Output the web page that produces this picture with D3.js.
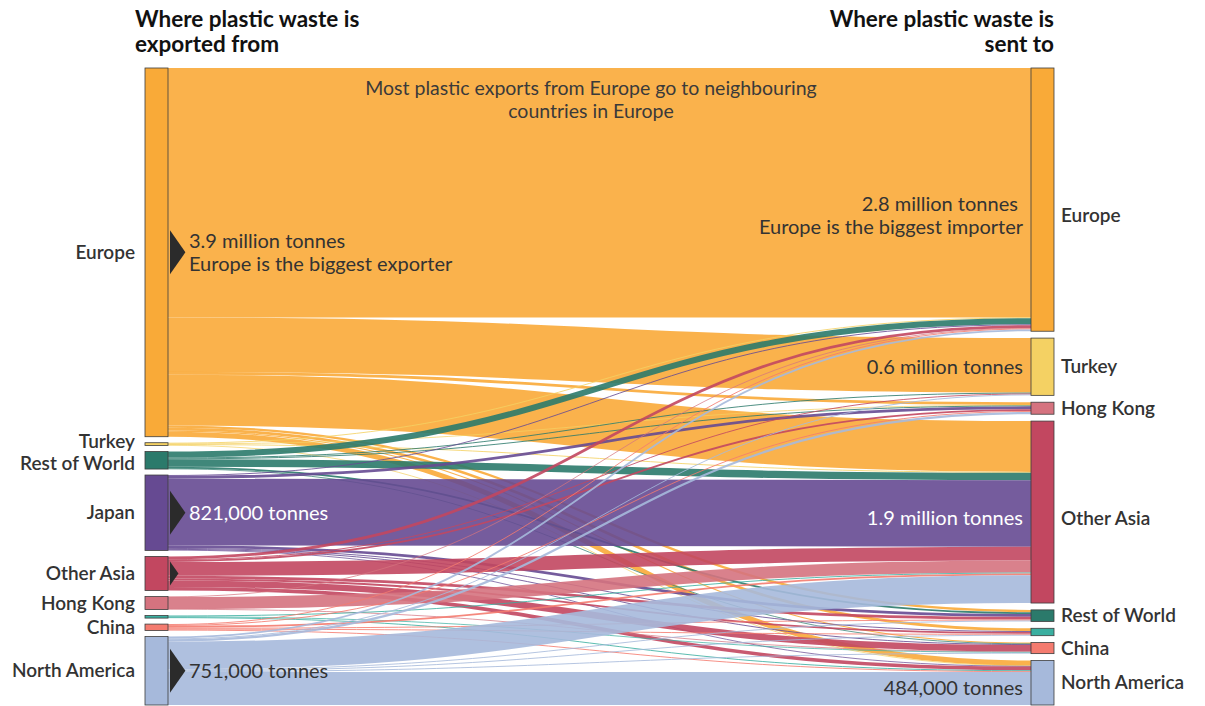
<!DOCTYPE html>
<html><head><meta charset="utf-8">
<script src="https://cdn.jsdelivr.net/npm/d3@7"></script>
<style>
body{margin:0;background:#fff;}
text{font-family:Lato,"Open Sans","DejaVu Sans",sans-serif;}
</style>
</head><body>
<svg id="chart" width="1205" height="706"></svg>
<script>
// ---------- DATA ----------
const sources = ["Europe","Turkey","Rest of World","Japan","Other Asia","Hong Kong","Other","China","North America"];
const sourceLabels = ["Europe","Turkey","Rest of World","Japan","Other Asia","Hong Kong","","China","North America"];
const targets = ["Europe","Turkey","Hong Kong","Other Asia","Rest of World","Other","China","North America"];
const targetLabels = ["Europe","Turkey","Hong Kong","Other Asia","Rest of World","","China","North America"];

// thousand tonnes sent from each source to targets (order = targets)
const fromEurope       = [2700, 590, 30, 550, 25, 30, 12, 55];
const fromTurkey       = [10, 0, 5, 10, 0, 0, 0, 5];
const fromRestOfWorld  = [65, 10, 10, 80, 20, 0, 5, 0];
const fromJapan        = [10, 0, 30, 720, 30, 10, 10, 6];
const fromOtherAsia    = [30, 10, 20, 150, 30, 20, 70, 40];
const fromHongKong     = [5, 0, 0, 130, 0, 0, 5, 0];
const fromOther        = [0, 0, 0, 10, 0, 0, 8, 10];
const fromChina        = [10, 0, 10, 20, 10, 10, 0, 10];
const fromNorthAmerica = [20, 10, 25, 300, 10, 10, 10, 356];
const flowRows = [fromEurope, fromTurkey, fromRestOfWorld, fromJapan, fromOtherAsia,
                  fromHongKong, fromOther, fromChina, fromNorthAmerica];

const regionColors = {
  "Europe":"#f9aa38", "Turkey":"#f4d163", "Rest of World":"#2b7a6b", "Japan":"#664a92",
  "Other Asia":"#c24760", "Hong Kong":"#d5737f", "Other":"#3aafa0", "China":"#f47b6f",
  "North America":"#a6b9db"
};

const leftTitle = ["Where plastic waste is","exported from"];
const rightTitle = ["Where plastic waste is","sent to"];
const topNote = ["Most plastic exports from Europe go to neighbouring","countries in Europe"];
const arrowSources = ["Europe","Japan","Other Asia","North America"];
const sourceNotes = {"Europe":["3.9 million tonnes","Europe is the biggest exporter"],
                     "Japan":["821,000 tonnes"], "North America":["751,000 tonnes"]};
const targetNotes = {"Europe":["2.8 million tonnes ","Europe is the biggest importer"],
                     "Turkey":["0.6 million tonnes"], "Other Asia":["1.9 million tonnes"],
                     "North America":["484,000 tonnes"]};
const lightNoteSources = ["Japan"];
const lightNoteTargets = ["Other Asia"];

// ---------- LAYOUT ----------
const svg = d3.select("#chart");
const xLeft = 145, nodeW = 23, xRight = 1031;
const yTop = 68, yBottom = 705, pad = 6;
const H = yBottom - yTop;
const labelSize = 19, noteSize = 20, noteGap = 22.5;

const srcTotals = flowRows.map(r => d3.sum(r));
const tgtTotals = targets.map((t, j) => d3.sum(flowRows, r => r[j]));
const grand = d3.max([d3.sum(srcTotals), d3.sum(tgtTotals)]);
const ky = d3.scaleLinear().domain([0, grand]).range([0, H - (sources.length - 1) * pad]);

const leftNodes = [];
let y = yTop;
sources.forEach((s, i) => { const h = ky(srcTotals[i]); leftNodes.push({name:s, label:sourceLabels[i], y0:y, y1:y+h}); y += h + pad; });
const padR = (H - ky(d3.sum(tgtTotals))) / (targets.length - 1);
const rightNodes = [];
y = yTop;
targets.forEach((t, j) => { const h = ky(tgtTotals[j]); rightNodes.push({name:t, label:targetLabels[j], y0:y, y1:y+h}); y += h + padR; });

// link positions
const srcOff = leftNodes.map(n => n.y0);
const tgtOff = rightNodes.map(n => n.y0);
const links = [];
flowRows.forEach((row, i) => row.forEach((v, j) => { if (v > 0) links.push({i, j, v, w: ky(v)}); }));
sources.forEach((s, i) => {
  links.filter(l => l.i === i).sort((a,b) => a.j - b.j).forEach(l => { l.sy = srcOff[i] + l.w/2; srcOff[i] += l.w; });
});
targets.forEach((t, j) => {
  links.filter(l => l.j === j).sort((a,b) => a.i - b.i).forEach(l => { l.ty = tgtOff[j] + l.w/2; tgtOff[j] += l.w; });
});

const linkGen = d3.linkHorizontal();
svg.append("g").selectAll("path").data(links).join("path")
  .attr("d", l => linkGen({source:[xLeft + nodeW, l.sy], target:[xRight, l.ty]}))
  .attr("fill", "none")
  .attr("stroke", l => regionColors[sources[l.i]])
  .attr("stroke-opacity", 0.9)
  .attr("stroke-width", l => Math.max(0.8, l.w));

// nodes
function drawNodes(nodes, x) {
  svg.append("g").selectAll("rect").data(nodes).join("rect")
    .attr("x", x).attr("y", d => d.y0).attr("width", nodeW)
    .attr("height", d => Math.max(1, d.y1 - d.y0))
    .attr("fill", d => regionColors[d.name])
    .attr("stroke", "#3d3d3d").attr("stroke-width", 0.8);
}
drawNodes(leftNodes, xLeft);
drawNodes(rightNodes, xRight);

// label positions: centre of node, aligned with a note when present, de-overlapped
function centre(n) { return (n.y0 + n.y1) / 2; }
function spread(items, gap) {
  const it = items.filter(d => d.label);
  for (let pass = 0; pass < 20; pass++) {
    for (let k = 1; k < it.length; k++) {
      const a = it[k-1], b = it[k], d = b.ly - a.ly;
      if (d < gap) { const m = (gap - d) / 2; a.ly -= m; b.ly += m; }
    }
  }
}
leftNodes.forEach(n => n.ly = centre(n));
rightNodes.forEach(n => n.ly = centre(n));
const rightNoteShift = {"Europe": 16, "Other Asia": 6, "North America": 5};
rightNodes.forEach(n => { n.ny = centre(n) + (rightNoteShift[n.name] || 0); });
rightNodes.forEach(n => { if (n.name === "Europe" || n.name === "Other Asia") n.ly = n.ny; });
spread(leftNodes, 22);
spread(rightNodes, 22);

svg.append("g").selectAll("text").data(leftNodes.filter(d => d.label)).join("text")
  .attr("x", xLeft - 10).attr("y", d => d.ly).attr("dy", "0.35em")
  .attr("text-anchor", "end").attr("font-size", labelSize).attr("font-weight", 600)
  .attr("fill", "#333").text(d => d.label);
svg.append("g").selectAll("text").data(rightNodes.filter(d => d.label)).join("text")
  .attr("x", xRight + nodeW + 7).attr("y", d => d.ly).attr("dy", "0.35em")
  .attr("text-anchor", "start").attr("font-size", labelSize).attr("font-weight", 600)
  .attr("fill", "#333").text(d => d.label);

// titles
const titleSize = 22.5, titleGap = 25;
const tl = svg.append("text").attr("font-size", titleSize).attr("font-weight", 700).attr("fill", "#111");
leftTitle.forEach((t, k) => tl.append("tspan").attr("x", 135).attr("y", 27 + k * titleGap).text(t));
const tr = svg.append("text").attr("font-size", titleSize).attr("font-weight", 700).attr("fill", "#111").attr("text-anchor", "end");
rightTitle.forEach((t, k) => tr.append("tspan").attr("x", 1054).attr("y", 27 + k * titleGap).text(t));

// top note
const tn = svg.append("text").attr("font-size", 19.5).attr("fill", "#3a3a3a").attr("text-anchor", "middle");
topNote.forEach((t, k) => tn.append("tspan").attr("x", 591).attr("y", 95 + k * 22.5).text(t));

// arrows
const arrowData = leftNodes.filter(n => arrowSources.includes(n.name));
svg.append("g").selectAll("path").data(arrowData).join("path")
  .attr("d", d => {
    const cy = centre(d), hh = Math.min(22, (d.y1 - d.y0)/2 - 5), w = hh * 0.7;
    const x = xLeft + nodeW + 2;
    return `M${x},${cy-hh}L${x+w},${cy}L${x},${cy+hh}Z`;
  })
  .attr("fill", "#2b2b2b");

// source notes
leftNodes.forEach(n => {
  const lines = sourceNotes[n.name]; if (!lines) return;
  const cy = centre(n);
  const t = svg.append("text").attr("font-size", noteSize)
    .attr("fill", lightNoteSources.includes(n.name) ? "#fff" : "#333");
  lines.forEach((s, k) => t.append("tspan").attr("x", xLeft + nodeW + 21)
    .attr("y", cy + (k - (lines.length - 1)/2) * noteGap).attr("dy", "0.35em").text(s));
});
// target notes
rightNodes.forEach(n => {
  const lines = targetNotes[n.name]; if (!lines) return;
  const t = svg.append("text").attr("font-size", noteSize).attr("text-anchor", "end")
    .attr("fill", lightNoteTargets.includes(n.name) ? "#fff" : "#333");
  lines.forEach((s, k) => t.append("tspan").attr("x", xRight - 8)
    .attr("y", n.ny + (k - (lines.length - 1)/2) * noteGap).attr("dy", "0.35em").text(s));
});
</script>
</body></html>
